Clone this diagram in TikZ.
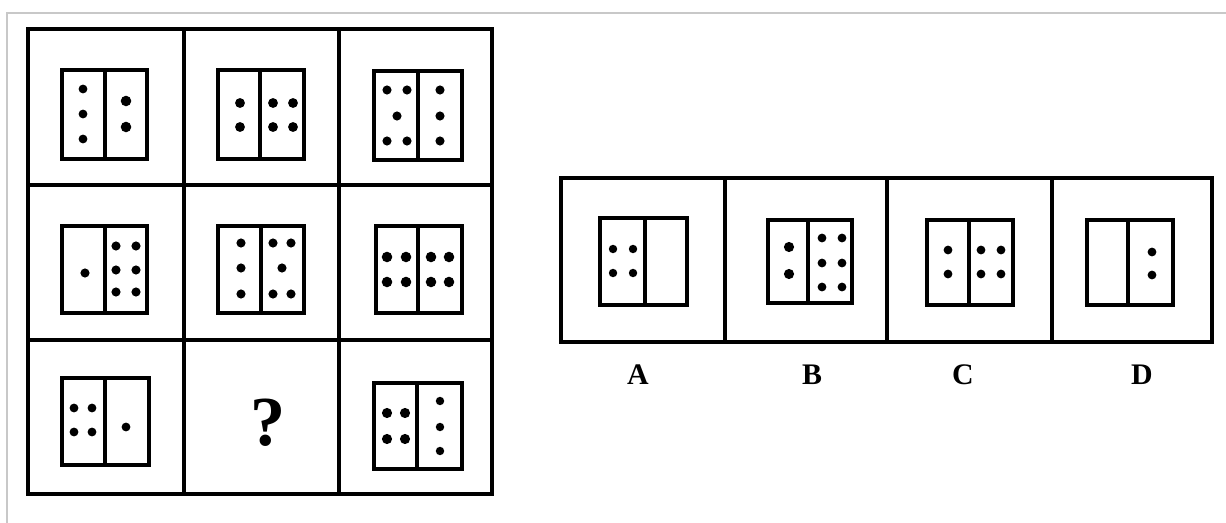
\documentclass[tikz,border=0pt]{standalone}
\usepackage{fontspec}
\setmainfont{Liberation Serif}
\definecolor{frameline}{HTML}{C8C8C8}
\newcommand\panel[5]{\draw[box] (#1,#2) rectangle (#3,#4); \draw[box] (#5,#2) -- (#5,#4);}

\begin{document}
\begin{tikzpicture}[x=0.02cm,y=-0.02cm,
 grid/.style={line width=2.3pt},
 strip/.style={line width=1.8pt},
 box/.style={line width=2.2pt},
 lab/.style={font=\bfseries\fontsize{17}{17}\selectfont,inner sep=0pt}]
 \useasboundingbox (0,0) rectangle (1226,523);
 \draw[frameline,line width=0.9pt] (7,523) |- (1226,13);
 % 3x3 grid
 \draw[grid] (28,29) rectangle (492,494);
 \foreach \x in {184,339} \draw[grid] (\x,29) -- (\x,494);
 \foreach \y in {185,340} \draw[grid] (28,\y) -- (492,\y);
 % row 1
 \panel{62}{70}{147}{159}{105}
 \foreach \p in {(83,89),(83,114),(83,139)} \fill \p circle (2.5pt);
 \foreach \p in {(126,101),(126,127)} \fill \p circle (3pt);
 \panel{218}{70}{304}{159}{260}
 \foreach \p in {(240,103),(240,127),(273,103),(293,103),(273,127),(293,127)} \fill \p circle (2.8pt);
 \panel{374}{71}{462}{160}{418}
 \foreach \p in {(387,90),(407,90),(397,116),(387,141),(407,141),(440,90),(440,116),(440,141)} \fill \p circle (2.6pt);
 % row 2
 \panel{62}{226}{147}{313}{105}
 \foreach \p in {(85,273),(116,246),(136,246),(116,270),(136,270),(116,292),(136,292)} \fill \p circle (2.6pt);
 \panel{218}{226}{304}{313}{261}
 \foreach \p in {(241,243),(241,268),(241,294),(273,243),(291,243),(282,268),(273,294),(291,294)} \fill \p circle (2.6pt);
 \panel{376}{226}{462}{313}{418}
 \foreach \p in {(387,257),(406,257),(431,257),(449,257),(387,282),(406,282),(431,282),(449,282)} \fill \p circle (3pt);
 % row 3
 \panel{62}{378}{149}{465}{105}
 \foreach \p in {(74,408),(92,408),(74,432),(92,432),(126,427)} \fill \p circle (2.5pt);
 \node[font=\bfseries\fontsize{40}{40}\selectfont,inner sep=0pt] (qmark) at (268,423) {?};
 \panel{374}{383}{462}{469}{417}
 \foreach \p in {(387,413),(405,413),(387,439),(405,439)} \fill \p circle (2.9pt);
 \foreach \p in {(440,401),(440,427),(440,451)} \fill \p circle (2.4pt);
 % answer options
 \draw[strip] (561,178) rectangle (1212,342);
 \foreach \x in {725,887,1052} \draw[strip] (\x,178) -- (\x,342);
 \panel{600}{218}{687}{305}{645}
 \foreach \p in {(613,249),(633,249),(613,273),(633,273)} \fill \p circle (2.4pt);
 \panel{768}{220}{852}{303}{808}
 \foreach \p in {(789,247),(789,274)} \fill \p circle (2.9pt);
 \foreach \p in {(822,238),(842,238),(822,263),(842,263),(822,287),(842,287)} \fill \p circle (2.5pt);
 \panel{927}{220}{1013}{305}{969}
 \foreach \p in {(948,250),(948,274),(981,250),(1001,250),(981,274),(1001,274)} \fill \p circle (2.5pt);
 \panel{1087}{220}{1173}{305}{1128}
 \foreach \p in {(1152,252),(1152,275)} \fill \p circle (2.5pt);
 \node[lab] (lblA) at (638,375) {A};
 \node[lab] (lblB) at (812,375) {B};
 \node[lab] (lblC) at (963,375) {C};
 \node[lab] (lblD) at (1142,375) {D};
\end{tikzpicture}
\end{document}
